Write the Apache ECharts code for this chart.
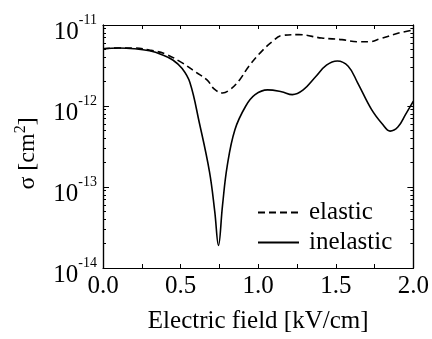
<!DOCTYPE html>
<html>
<head>
<meta charset="utf-8">
<script src="https://cdn.jsdelivr.net/npm/echarts@6/dist/echarts.min.js"></script>
<style>
  html, body { margin: 0; padding: 0; background: #fff; }
  #chart { width: 432px; height: 339px; }
</style>
</head>
<body>
<div id="chart"></div>
<script>
// electric field [kV/cm] and cross-section [cm^2]
const elasticX = [0, 0.1, 0.2, 0.3, 0.4, 0.5, 0.6, 0.67, 0.72, 0.77, 0.82, 0.88, 0.94, 1.03, 1.09, 1.15, 1.26, 1.41, 1.54, 1.64, 1.71, 1.79, 1.9, 2.0];
const elasticY = [5.1e-12, 5.2e-12, 5.2e-12, 4.9e-12, 4.4e-12, 3.5e-12, 2.6e-12, 2.1e-12, 1.6e-12, 1.45e-12, 1.6e-12, 2.1e-12, 3.1e-12, 4.9e-12, 6.2e-12, 7.4e-12, 7.6e-12, 6.9e-12, 6.6e-12, 6.2e-12, 6.2e-12, 6.8e-12, 7.9e-12, 8.7e-12];

const inelasticX = [0, 0.1, 0.2, 0.3, 0.38, 0.45, 0.51, 0.56, 0.62, 0.686, 0.72, 0.744, 0.77, 0.8, 0.85, 0.92, 0.98, 1.06, 1.15, 1.22, 1.29, 1.37, 1.44, 1.51, 1.58, 1.64, 1.73, 1.8, 1.85, 1.9, 1.95, 2.0];
const inelasticY = [5.1e-12, 5.2e-12, 5.1e-12, 4.8e-12, 4.3e-12, 3.7e-12, 2.9e-12, 1.95e-12, 6.3e-13, 1.55e-13, 5e-14, 1.9e-14, 5.9e-14, 1.8e-13, 5.1e-13, 1.0e-12, 1.38e-12, 1.58e-12, 1.5e-12, 1.38e-12, 1.58e-12, 2.3e-12, 3.2e-12, 3.6e-12, 3.1e-12, 1.95e-12, 9.1e-13, 6.0e-13, 4.9e-13, 5.5e-13, 7.9e-13, 1.15e-12];

const minorTicks = [];
for (let e = -14; e < -11; e++) {
  for (let k = 2; k <= 9; k++) minorTicks.push(k * Math.pow(10, e));
}

const font = 'Liberation Serif';
const pairs = (xs, ys) => xs.map((x, i) => [x, ys[i]]);

const chart = echarts.init(document.getElementById('chart'));

const logAxis = (extra) => Object.assign({
  type: 'log',
  logBase: 10,
  min: 1e-14,
  max: 1e-11,
  splitLine: { show: false },
  axisLine: { show: true, lineStyle: { color: '#000', width: 1.2 } },
  axisLabel: { show: false },
  axisTick: { show: false },
}, extra);

const options = {
  animation: false,
  backgroundColor: '#fff',
  grid: { left: 103, right: 17, top: 25, bottom: 69 },
  legend: {
    data: ['elastic', 'inelastic'],
    orient: 'vertical',
    left: 252,
    top: 195,
    itemWidth: 41,
    itemHeight: 14,
    itemGap: 5,
    itemStyle: { color: 'transparent', borderWidth: 0 },
    textStyle: { fontFamily: font, fontSize: 25, color: '#000', padding: [0, 0, 0, 5] },
  },
  xAxis: [
    {
      type: 'value',
      min: 0,
      max: 2,
      interval: 0.25,
      name: 'Electric field [kV/cm]',
      nameLocation: 'middle',
      nameGap: 41,
      nameTextStyle: { fontFamily: font, fontSize: 25, color: '#000' },
      splitLine: { show: false },
      axisLine: { lineStyle: { color: '#000', width: 1.2 } },
      axisTick: { inside: true, length: 4, lineStyle: { color: '#000' } },
      axisLabel: {
        fontFamily: font,
        fontSize: 25,
        color: '#000',
        margin: 6,
        formatter: (v) => (Math.abs(v * 2 - Math.round(v * 2)) < 1e-9 ? v.toFixed(1) : ''),
      },
    },
    {
      type: 'value',
      position: 'top',
      min: 0,
      max: 2,
      interval: 0.25,
      splitLine: { show: false },
      axisLine: { lineStyle: { color: '#000', width: 1.2 } },
      axisTick: { inside: true, length: 4, lineStyle: { color: '#000' } },
      axisLabel: { show: false },
    },
  ],
  yAxis: [
    logAxis({
      position: 'left',
      name: 'σ [{t|cm}{s|2}{t|]}',
      nameLocation: 'middle',
      nameGap: 60,
      nameRotate: 90,
      nameTextStyle: {
        fontFamily: font,
        fontSize: 24,
        color: '#000',
        padding: [0, 14, 0, 0],
        rich: {
          t: { fontFamily: font, fontSize: 24, color: '#000' },
          s: { fontFamily: font, fontSize: 16, color: '#000', padding: [0, 0, 14, 0] },
        },
      },
      axisTick: { show: true, inside: true, length: 6, lineStyle: { color: '#000' } },
      axisLabel: {
        show: true,
        margin: 6,
        formatter: (v) => '{b|10}{s|' + Math.round(Math.log10(v)) + '}',
        rich: {
          b: { fontFamily: font, fontSize: 25, color: '#000', padding: [14, 0, 0, 0] },
          s: { fontFamily: font, fontSize: 14, color: '#000', padding: [0, 0, 10, 0] },
        },
      },
    }),
    logAxis({
      position: 'left',
      axisTick: { show: true, inside: true, length: 3, customValues: minorTicks, lineStyle: { color: '#000' } },
    }),
    logAxis({
      position: 'right',
      axisTick: { show: true, inside: true, length: 6, lineStyle: { color: '#000' } },
    }),
    logAxis({
      position: 'right',
      axisTick: { show: true, inside: true, length: 3, customValues: minorTicks, lineStyle: { color: '#000' } },
    }),
  ],
  series: [
    {
      name: 'elastic',
      type: 'line',
      xAxisIndex: 0,
      yAxisIndex: 0,
      smooth: 0.4,
      symbol: 'none',
      lineStyle: { color: '#000', width: 1.6, type: [7, 4] },
      itemStyle: { color: '#000' },
      data: pairs(elasticX, elasticY),
    },
    {
      name: 'inelastic',
      type: 'line',
      xAxisIndex: 0,
      yAxisIndex: 0,
      smooth: 0.4,
      symbol: 'none',
      lineStyle: { color: '#000', width: 1.6 },
      itemStyle: { color: '#000' },
      data: pairs(inelasticX, inelasticY),
    },
  ],
};

chart.setOption(options);
</script>
</body>
</html>
